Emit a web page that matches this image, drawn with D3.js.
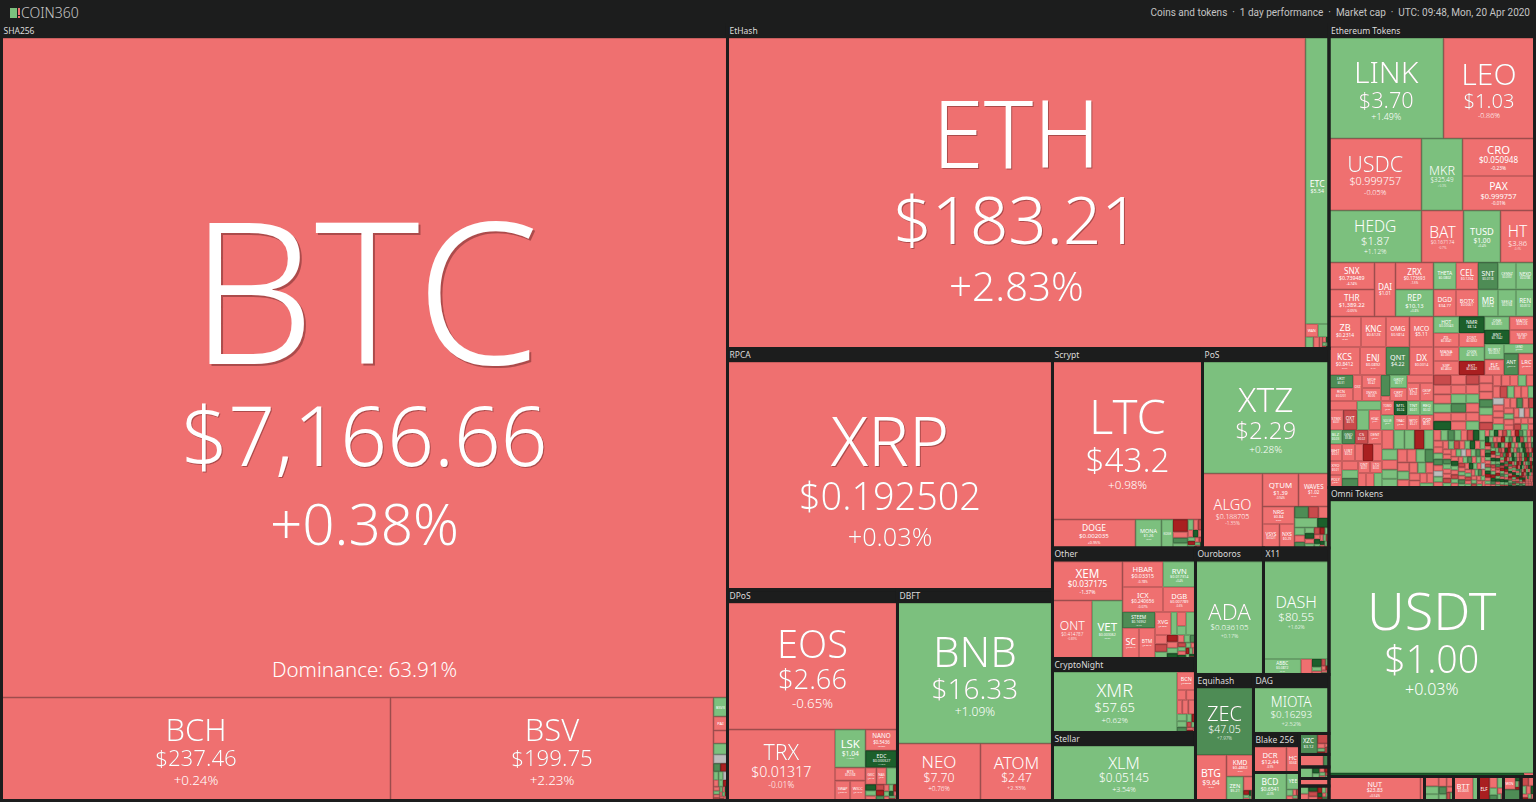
<!DOCTYPE html>
<html lang="en">
<head>
<meta charset="utf-8">
<title>COIN360</title>
<script src="https://d3js.org/d3.v7.min.js"></script>
<style>
html, body { margin: 0; padding: 0; background: #1c1d1d; overflow: hidden; }
text { font-family: "Noto Sans", sans-serif; font-weight: 300; }
text.group { font-weight: 400; }
</style>
</head>
<body>
<script>
// tree helpers: x / y split a node along that axis, c is one coin, t is a block of tiny coins
function x(...kids) { return {dir: "x", kids: kids}; }
function y(...kids) { return {dir: "y", kids: kids}; }
function c(name, price, pct, cap, tone) { return {name, price, pct, cap, tone}; }
function b(cap, tone) { return {cap, tone}; }
function t(cap, sizes, tones) { return {cap, sizes, tones}; }
function group(name, width, ...kids) {
    var body = kids.length > 1 ? {dir: "y", kids: kids} : kids[0];
    return {dir: "y", frame: true, label: name, kids: [{cap: width * 13.5, head: true}, body]};
}
function block(dir, ...kids) { return {dir: dir, frame: true, kids: kids}; }

var dominance = "Dominance: 63.91%";
var logoText = "COIN360";
var headerText = "Coins and tokens\u00a0\u00a0\u00b7\u00a0\u00a01 day performance\u00a0\u00a0\u00b7\u00a0\u00a0Market cap\u00a0\u00a0\u00b7\u00a0\u00a0UTC: 09:48, Mon, 20 Apr 2020";
var toneKeys = ["x", "d", "r", "n", "g", "m", "k"];
var toneColors = ["#a91f20", "#c94b4c", "#ef7070", "#bcbcbc", "#7cc07e", "#4e8c55", "#1c5f2b"];

// estimated small tails
var tailEthA = [170,165,160,155,150,150,145,140,140,135,130,130,125,125,120,120,115,115,110,110,105,105,100,100,100,95,95,90,90,90,85,85,80,80,80,75,75,70,70,70,65,65,65,60,60,60,55,55,55,50,50,50,50,45,45,45,45,40,40,40];
var tonesEthA = "drrgrkrrgmrrdrgrrgrrrmgrdrrrgrrdgrrgnrrrgrrmrdrgrrrnrgrdrgrr";
var tailEthB = [70,66,64,62,60,58,56,55,54,52,50,50,48,47,46,45,44,43,42,41,40,40,39,38,38,37,36,36,35,35,34,34,33,33,32,32,31,31,30,30,30,29,29,28,28,28,27,27,26,26,26,25,25,25,24,24,24,23,23,23,22,22,22,21,21,21,20,20,20,20,19,19,19,18,18,18,18,18,17,17];
var tonesEthB = "rgmgrdkgrrgmrngrrgdrgkrgrrmgrrdgrgnrgmrrkgrdgrrgmrgrdrgrmgrkgrnrgdrgrgmrrgdrgrg";
var tailEthC = [20,20,19,19,19,18,18,18,18,17,17,17,17,16,16,16,16,16,15,15,15,15,15,15,14,14,14,14,14,14,14,13,13,13,13,13,13,13,13,12,12,12,12,12,12,12,12,12,12,11,11,11,11,11,11,11,11,11,11,11,11,10,10,10,10,10,10,10,10,10,10,10,10,10,10,9,9,9,9,9,9,9,9,9,9,9,9,9,9,9,9,9,8,8,8,8,8,8,8,8,8,8,8,8,8,8,8,8,8,8,8,8,7,7,7,7,7,7,7,7,7,7,7,7,7,7,7,7,7,7,7,7,7,7,7,6,6,6,6,6,6,6,6,6,6,6,6,6,6,6,6,6,6,6,6,6,6,6,6,6,6,5,5,5,5,5,5,5,5,5,5,5,5,5,5,5,5,5,5,5,5,5,5,5,5,5,5,5,5,5,5,5,5,4,4,4,4,4,4,4,4,4,4,4,4,4,4,4,4,4,4,4,4,4,4,4,4,4,4,4,4,4,4,4,4,4,4,4];
var tonesEthC = "rgkrdgrxmgrdkgrrxgmrkdgrgxrmkgrdgkxrgrmdkgrxgrgkdrmgxrkgdrgxkmrgdrkxgrmgkdrxgrkgmdrxgkrgdmxrkgrdgkxmrgrkdxgmrkgdxrgkmrdgxkrgmdkxrgrkgdxmrgkrxdgmkrgxdkrgmxkdgrkxgrmdgxrkgrdkxgmrgkxrdgkmrxgrkdgxrmkgrdxkgrmgdkxrgkrm";
var tailEthLeftC = [150,140,130,125,120,110,100,95,90,85,80,78,74,70,66,62,60,58,56,52,50,46,44,40];
var tonesEthLeftC = "rggxggrggrrgmrgrrgrrrrrg";

var sha256 = group("SHA256", 726,
    c("BTC", "$7,166.66", "+0.38%", 478797, "r"),
    x(c("BCH", "$237.46", "+0.24%", 40067, "r"),
      c("BSV", "$199.75", "+2.23%", 33269, "r"),
      y(c("BSV3", "", "", 266, "g"), c("PAI", "", "", 196, "r"), c("", "", "", 182, "r"), c("", "", "", 154, "g"),
        b(126, "n"), x(b(56, "m"), b(56, "x")),
        t(406, [30,28,26,24,22,20,18,16,14,12,11,10,9,8,8,7,7,6,6,5], "ggnrgxrgrdgrkrgxrdrg"))));

var etHash = group("EtHash", 601.5,
    x(c("ETH", "$183.21", "+2.83%", 179469, "r"),
      y(c("ETC", "$5.54", "+2.14%", 6721, "g"),
        x(c("WAN", "", "", 163, "r"), b(143, "g")),
        x(b(92, "g"), b(69, "r"), b(35, "r"), t(75, [6,5,4,3,3,2], "rkgdgk")))));

var rpca = group("RPCA", 325, c("XRP", "$0.192502", "+0.03%", 73938, "r"));

var dpos = group("DPoS", 170,
    c("EOS", "$2.66", "-0.65%", 21505, "r"),
    x(c("TRX", "$0.01317", "-0.01%", 7633, "r"),
      y(x(c("LSK", "$1.04", "+1.09%", 1159, "g"),
          y(c("NANO", "$0.5436", "-0.62%", 672, "r"), c("EDC", "$0.000327", "+14.5%", 544, "k"))),
        x(y(c("BTS", "$0.0168", "-0.44%", 397, "r"),
            x(c("SWAP", "$0.0642", "-0.3%", 300, "r"), c("WICC", "$0.1246", "-1.1%", 305, "r"))),
          y(x(c("GXC", "$0.42", "-0.2%", 187, "r"), c("NAS", "$0.31", "-0.3%", 170, "r"), b(187, "g")),
            t(512, [60,52,48,44,40,36,32,28,26,24,20,18,16,14,12,10], "kgrdxmrgxgrkrgdr"))))));

var dbft = group("DBFT", 155,
    c("BNB", "$16.33", "+1.09%", 21778, "g"),
    x(c("NEO", "$7.70", "+0.76%", 4731, "r"), c("ATOM", "$2.47", "+2.33%", 4104, "r")));

var scrypt = group("Scrypt", 150,
    c("LTC", "$43.2", "+0.98%", 23625, "r"),
    x(c("DOGE", "$0.002035", "+0.95%", 2366, "r"), c("MONA", "$1.26", "+0.5%", 741, "g"), c("KOGE", "", "", 328, "g"),
      t(841, [180,90,80,70,60,50,44,40,36,32,28,26,22,20,18,16,14,12], "xrmggrdrkrgxgrdgrk")));

var pos = group("PoS", 126.5,
    c("XTZ", "$2.29", "+0.28%", 14105, "g"),
    x(c("ALGO", "$0.188705", "-1.35%", 4470, "r"),
      y(x(c("QTUM", "$1.39", "-0.94%", 1188, "r"), c("WAVES", "$1.02", "-0.7%", 1007, "r")),
        x(y(c("NRG", "$0.84", "-0.6%", 560, "r"),
            x(c("VSYS", "$0.021", "-0.5%", 408, "r"), c("NXS", "$0.29", "-0.4%", 360, "r"))),
          y(x(c("", "", "", 161, "m"), c("", "", "", 115, "d"), b(121, "r")),
            x(b(218, "g"), b(109, "k")),
            t(707, [80,70,60,56,50,46,42,38,34,30,28,26,24,22,20,18,16,14,12,10,8], "grmgkrgdxgrkgrgdkrgxr"))))));

var other = group("Other", 143,
    x(y(c("XEM", "$0.037175", "-1.37%", 2730, "r"),
        x(c("ONT", "$0.414787", "-0.89%", 2291, "r"), c("VET", "$0.003062", "+0.9%", 1769, "g"))),
      y(x(c("HBAR", "$0.03315", "-0.78%", 1033, "r"), c("RVN", "$0.017314", "+0.4%", 829, "g")),
        x(c("ICX", "$0.240656", "-0.07%", 1013, "r"), c("DGB", "$0.007789", "-0.6%", 812, "r")),
        x(y(c("STEEM", "$0.16952", "+5.4%", 520, "m"),
            x(c("SC", "$0.0019", "-0.4%", 503, "r"), c("BTM", "$0.0512", "-0.3%", 488, "r"))),
          y(x(c("XVG", "$0.0031", "-0.7%", 368, "r"), b(138, "g"), y(b(126, "r"), b(81, "g")), b(218, "g")),
            t(952, [110,90,80,70,64,58,52,48,44,40,36,32,30,28,26,24,22,20,18,16,14,12], "rdgxrgkrgmdgrkgrxgrgkd"))))));

var cryptoNight = group("CryptoNight", 143,
    x(c("XMR", "$57.65", "+0.62%", 7532, "g"),
      y(c("BCN", "$0.00006", "-0.4%", 333, "r"),
        x(b(92, "r"), b(93, "r")),
        x(b(74, "r"), b(85, "r"), b(100, "r")),
        t(342, [70,60,50,40,30,26,22,18,14,12], "ggmgxdgrxr"))));

var stellar = group("Stellar", 143, c("XLM", "$0.05145", "+3.54%", 7794, "g"));
var ouroboros = group("Ouroboros", 68, c("ADA", "$0.036105", "+0.17%", 7684, "g"));
var x11 = group("X11", 65.5,
    c("DASH", "$80.55", "+1.62%", 6386, "g"),
    x(c("ABBC", "$0.0872", "+0.4%", 581, "g"), b(171, "r"), t(264, [70,40,30,26,22,18,14,12,10,8], "kgrdgrxrgk")));

var equihash = group("Equihash", 58,
    c("ZEC", "$47.05", "+7.97%", 3886, "m"),
    x(c("BTG", "$9.64", "-0.8%", 1411, "r"),
      y(c("KMD", "$0.4862", "-0.5%", 581, "r"),
        x(c("ZEN", "$5.21", "+0.6%", 408, "g"),
          y(b(140, "r"), t(100, [24,18,14,12,10,8,7,5], "xgrkrgdr"))))));

var dag = group("DAG", 75.5, c("MIOTA", "$0.16293", "+2.52%", 3435, "g"));
var blake256 = group("Blake 256", 46, x(c("DCR", "$12.44", "-0.9%", 842, "r"), c("HC", "$0.68", "-0.6%", 332, "r")));
var bcdBlock = block("x", c("BCD", "$0.6541", "+0.3%", 924, "g"),
    y(c("YEE", "", "", 221, "g"), t(143, [40,30,22,18,14,10,9], "grrdgrx")));
var smallBlocks = y(
    block("x", c("XZC", "$3.12", "+4.1%", 378, "m"), y(b(115, "d"), t(126, [36,24,20,16,12,10,8], "rgxrdgr"))),
    block("x", b(300, "r"), b(69, "m")),
    block("x", b(150, "g"), t(190, [44,36,28,24,20,16,12,10], "kgrxgrdg")),
    block("x", b(221, "r")),
    block("x", t(428, [70,60,50,44,36,30,26,22,20,16,14,12,10,8,6], "grkdrxgrkxrgmdr")));

var ethereumTokens = group("Ethereum Tokens", 205.5,
    x(c("LINK", "$3.70", "+1.49%", 11507, "g"), c("LEO", "$1.03", "-0.86%", 9146, "r")),
    x(c("USDC", "$0.999757", "-0.05%", 6660, "r"), c("MKR", "$325.49", "+0.3%", 2952, "g"),
      y(c("CRO", "$0.050948", "-0.23%", 2700, "r"), c("PAX", "$0.999757", "-0.01%", 2484, "r"))),
    x(c("HEDG", "$1.87", "+1.12%", 4810, "g"), c("BAT", "$0.167174", "-0.7%", 2184, "r"),
      c("TUSD", "$1.00", "+0.4%", 1924, "g"), c("HT", "$3.86", "-0.4%", 1768, "r")),
    x(y(c("SNX", "$0.739489", "-4.74%", 1229, "r"), c("THR", "$1,389.22", "-0.05%", 1229, "r")),
      c("DAI", "$1.01", "-0.2%", 1134, "r"),
      y(c("ZRX", "$0.173693", "-1.5%", 1026, "r"), c("REP", "$10.13", "+0.8%", 1026, "g")),
      y(x(c("THETA", "$0.0802", "+0.6%", 608, "g"), c("CEL", "$0.1234", "-0.5%", 594, "r"), c("SNT", "$0.0118", "+5.2%", 540, "m"),
          c("CENNZ", "$0.0392", "+0.9%", 486, "g"), c("NEXO", "$0.0786", "+0.7%", 500, "g")),
        x(c("DGD", "$34.77", "-0.4%", 608, "r"), c("BOTX", "$0.0061", "-0.6%", 594, "r"), c("MB", "$0.0214", "+1.1%", 540, "g"),
          c("SEELE", "$0.0168", "+0.4%", 486, "g"), c("REN", "$0.0512", "+0.8%", 500, "g")))),
    x(y(x(c("ZB", "$0.2314", "-0.5%", 976, "r"), c("KNC", "$0.6123", "-0.6%", 762, "r"), c("OMG", "$0.5814", "-0.4%", 717, "r"), c("MCO", "$5.11", "-0.3%", 732, "r")),
        x(c("KCS", "$0.8412", "-0.7%", 868, "r"), c("ENJ", "$0.0892", "-0.4%", 728, "r"), c("QNT", "$4.22", "+4.8%", 658, "m"), c("DX", "$0.0014", "-0.3%", 672, "r"))),
      x(y(c("HOT", "$0.00043", "+0.6%", 421, "g"), c("ZIL", "$0.0041", "-0.5%", 357, "r"), c("MANA", "$0.0301", "-0.4%", 357, "r"), c("SXP", "$0.4602", "-0.6%", 357, "r")),
        y(c("NMR", "$8.14", "+15.2%", 421, "k"), c("IOST", "$0.0032", "-0.5%", 357, "r"), c("OGN", "$0.1415", "+0.3%", 357, "g"), c("EKT", "$0.0041", "-12.4%", 357, "x")),
        y(x(y(c("ONE", "$0.0031", "+0.5%", 338, "g"), c("BNT", "$0.1642", "+15.8%", 350, "k")),
            y(c("MATIC", "$0.0126", "-0.4%", 338, "r"), c("SUSD", "$1.01", "-0.3%", 350, "r"))),
          x(y(c("BURST", "$0.0025", "+0.4%", 302, "g"), c("ELF", "$0.0536", "-0.5%", 302, "r")),
            y(c("LEND", "$0.0251", "+0.4%", 290, "g"),
              x(c("ANT", "$0.6412", "+5.1%", 312, "m"), c("LRC", "$0.0276", "-0.5%", 344, "r"))))))),
    x(y(x(y(c("LRIT", "$0.31", "+5.0%", 312, "m"), c("RCN", "$0.0201", "-0.4%", 312, "r")),
          c("OXZ", "$0.01", "-0.3%", 234, "r"),
          y(c("MOF", "$0.42", "-0.3%", 247, "r"), c("INFXS", "$0.06", "-0.4%", 247, "r")),
          y(b(189, "m"), b(45, "r")),
          y(c("GRDT", "$0.11", "+0.7%", 221, "g"), c("CRPT", "$0.09", "-0.5%", 221, "r")),
          y(b(212, "r"), x(c("VCT", "$0.02", "-0.4%", 234, "r"), c("OKSP", "$0.01", "-0.3%", 243, "r")))),
        x(y(x(b(252, "r"), b(216, "g")),
            x(c("STMX", "$0.01", "-0.5%", 290, "r"), c("OXT", "$0.15", "-5.6%", 270, "d"), c("ROOBEE", "$0.02", "+0.5%", 240, "g"), c("HDAC", "$0.01", "-0.4%", 240, "r"))),
          y(x(c("TOMO", "$0.22", "-0.4%", 182, "r"), c("MTL", "$0.24", "+12.7%", 182, "k"), c("TNT", "$0.01", "+0.7%", 182, "g"), c("REQ", "$0.02", "+0.6%", 189, "g")),
            x(c("SOLVE", "$0.04", "+0.3%", 195, "g"), c("TRAC", "$0.02", "-0.4%", 195, "r"), c("WTC", "$0.21", "-0.6%", 195, "r"), c("QSP", "$0.01", "-0.3%", 203, "r")))),
        x(y(x(c("BLZ", "$0.03", "+0.5%", 182, "g"), c("GNO", "$9.86", "+5.2%", 182, "m"), c("CS", "$0.02", "-5.9%", 182, "d"), c("DENT", "$0.01", "-0.6%", 196, "r")),
            x(c("BHT", "$0.01", "-0.5%", 221, "r"), c("UBT", "$0.02", "-0.4%", 221, "r"), b(136, "r"), b(170, "x"), b(153, "r")),
            x(y(c("XYO", "$0.01", "-0.3%", 182, "r"), c("POLY", "$0.01", "-0.4%", 163, "r")),
              y(b(144, "r"), b(136, "g"), b(144, "m")),
              y(x(c("DNT", "$0.01", "-0.5%", 144, "r"), c("LTO", "$0.02", "-0.4%", 144, "r")),
                x(b(116, "r"), b(116, "r"), b(116, "g"))))),
          t(2961, tailEthLeftC, tonesEthLeftC))),
      y(t(5555, tailEthA, tonesEthA),
        x(t(2961, tailEthB, tonesEthB), t(2846, tailEthC, tonesEthC)))));

var omniTokens = group("Omni Tokens", 205.5,
    c("USDT", "$1.00", "+0.03%", 55896, "g"),
    x(b(683, "k"), b(37, "r")));

var bottomBlocks = x(
    block("x", c("NUT", "$23.83", "+0.54%", 2196, "r"), b(96, "r")),
    block("x", t(696, [140,110,90,80,70,60,50,40,30,26], "rggrrmgrdg")),
    block("x", c("BTT", "$0.0003", "-0.3%", 468, "r"), b(132, "g")),
    block("x", c("ELF", "", "", 264, "x"), t(336, [90,70,56,44,36,26,14], "rggmrgr")),
    block("y", x(c("WIN", "", "", 156, "r"), t(72, [26,18,14,10,4], "kgrxr")), b(192, "m")),
    block("y", t(324, [70,56,44,36,30,26,20,16,14,12], "drgrkrxgrr")));

var layoutTree = x(
    sha256,
    y(etHash,
      x(y(rpca, x(dpos, dbft)),
        y(x(scrypt, pos),
          x(y(other, cryptoNight, stellar),
            y(x(ouroboros, x11),
              x(equihash,
                y(dag,
                  x(y(blake256, bcdBlock), smallBlocks)))))))),
    y(ethereumTokens, omniTokens, bottomBlocks));

var width = 1536, height = 802;
var bg = "#1c1d1d";

var tone = d3.scaleOrdinal().domain(toneKeys).range(toneColors);

function tile(node, x0, y0, x1, y1) {
    (node.data.dir === "x" ? d3.treemapDice : d3.treemapSlice)(node, x0, y0, x1, y1);
}

var root = d3.hierarchy(layoutTree, function(d) { return d.kids; })
    .sum(function(d) { return d.kids ? 0 : d.cap; });

d3.treemap().tile(tile).size([1533, 776])(root);

var svg = d3.select("body").append("svg")
    .attr("width", width)
    .attr("height", height)
    .style("display", "block");

// page header
var logo = svg.append("g");
logo.append("rect").attr("x", 10).attr("y", 8).attr("width", 7).attr("height", 10).attr("fill", "#7cc07e");
logo.append("rect").attr("x", 18).attr("y", 8).attr("width", 2).attr("height", 7).attr("fill", "#ef7070");
logo.append("rect").attr("x", 18).attr("y", 16).attr("width", 2).attr("height", 2).attr("fill", "#ef7070");
logo.append("text").attr("x", 21).attr("y", 18).attr("font-size", 14).attr("fill", "#c8c8c8").text(logoText);
svg.append("text").attr("x", 1530).attr("y", 16).attr("text-anchor", "end")
    .attr("font-size", 10).attr("fill", "#c4c4c4").style("font-family", "Roboto").style("font-weight", 400).text(headerText);

var chart = svg.append("g").attr("transform", "translate(1.5,24.5)");

var leaves = root.leaves();

function cell(sel) {
    sel.attr("x", function(d) { return d.x0 + 0.5; })
        .attr("y", function(d) { return d.y0 + 0.5; })
        .attr("width", function(d) { return Math.max(0, d.x1 - d.x0 - 1); })
        .attr("height", function(d) { return Math.max(0, d.y1 - d.y0 - 1); })
        .attr("fill", function(d) { return tone(d.data.tone); })
        .attr("stroke", function(d) { return d3.color(tone(d.data.tone)).darker(0.5); });
}

chart.selectAll("rect.coin")
    .data(leaves.filter(function(d) { return !d.data.head && !d.data.sizes; }))
    .enter().append("rect").attr("class", "coin").call(cell);

// blocks of tiny coins get their own squarified treemap
leaves.filter(function(d) { return d.data.sizes; }).forEach(function(n) {
    var tiles = d3.hierarchy({kids: n.data.sizes.map(function(s, i) {
        return {cap: s, tone: n.data.tones[i] || "r"};
    })}, function(d) { return d.kids; }).sum(function(d) { return d.cap || 0; });
    d3.treemap().size([n.x1 - n.x0, n.y1 - n.y0])(tiles);
    chart.append("g").attr("transform", "translate(" + n.x0 + "," + n.y0 + ")")
        .selectAll("rect").data(tiles.leaves()).enter().append("rect").call(cell);
});

// coin labels sized from their cell
function fit(sel, str) {
    var probe = sel.append("text").attr("font-size", 100).text(str);
    var len = probe.node().getComputedTextLength();
    probe.remove();
    return len / 100;
}

leaves.filter(function(d) { return d.data.name; }).forEach(function(d) {
    var w = d.x1 - d.x0, h = d.y1 - d.y0;
    var cx = d.x0 + w / 2, cy = d.y0 + h / 2;
    var nameSize = Math.min(0.3 * h, 0.63 * w / fit(chart, d.data.name));
    var priceSize = d.data.price ? Math.min(0.72 * nameSize, 0.56 * w / fit(chart, d.data.price), 82) : 0;
    var pctSize = d.data.pct ? Math.min(0.078 * w, 0.13 * h) : 0;
    var nameGap = priceSize ? 0.1 * nameSize + priceSize : 0;
    var total = 0.71 * nameSize + nameGap + 1.4 * pctSize;
    var base = cy - total / 2 + 0.025 * h + 0.71 * nameSize;
    var lines = [[d.data.name, nameSize, base],
        [d.data.price, priceSize, base + nameGap],
        [d.data.pct, pctSize, base + nameGap + 1.4 * pctSize]];
    lines.forEach(function(l) {
        if (!l[0] || l[1] < 2) return;
        var txt = chart.append("text")
            .attr("x", cx).attr("y", l[2])
            .attr("text-anchor", "middle")
            .attr("font-size", l[1])
            .attr("fill", "#fff")
            .text(l[0]);
        if (nameSize < 12) txt.style("font-weight", 400);
        if (l[1] >= 20) {
            var off = l[1] * 0.015;
            txt.style("filter", "drop-shadow(" + off + "px " + off + "px 0 rgba(90,30,30,.45))");
        }
    });
    if (d.data.name === "BTC") {
        chart.append("text").attr("x", cx).attr("y", d.y1 - 21)
            .attr("text-anchor", "middle").attr("font-size", 20.5).attr("fill", "#fff").text(dominance);
    }
});

// dark header strips and the gaps between groups
var frames = root.descendants().filter(function(d) { return d.data.frame; });

chart.selectAll("rect.frame").data(frames).enter().append("rect")
    .attr("class", "frame")
    .attr("x", function(d) { return d.x0; })
    .attr("y", function(d) { return d.y0; })
    .attr("width", function(d) { return d.x1 - d.x0; })
    .attr("height", function(d) { return d.y1 - d.y0; })
    .attr("fill", "none")
    .attr("stroke", bg)
    .attr("stroke-width", 3);

chart.selectAll("text.group").data(frames.filter(function(d) { return d.data.label; })).enter().append("text")
    .attr("class", "group")
    .attr("x", function(d) { return d.x0 + 2; })
    .attr("y", function(d) { return d.y0 + 9.5; })
    .attr("font-size", 8.5)
    .attr("fill", "#dcdcdc")
    .text(function(d) { return d.data.label; });
</script>
</body>
</html>
